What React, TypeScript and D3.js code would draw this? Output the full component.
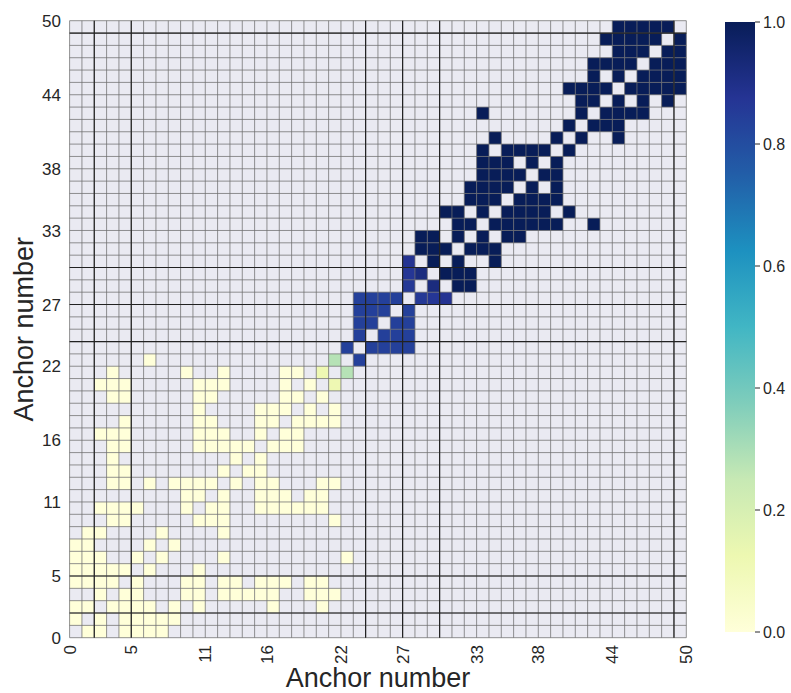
import React from "react";
import * as d3 from "d3";

const N = 50;
const axisTicks = [0, 5, 11, 16, 22, 27, 33, 38, 44, 50];
const colorbarTicks = [0, 0.2, 0.4, 0.6, 0.8, 1.0];
const guideLines = [2, 5, 24, 27, 30, 49];
const ylgnbu = ["#ffffd9", "#edf8b1", "#c7e9b4", "#7fcdbb", "#41b6c4", "#1d91c0", "#225ea8", "#253494", "#081d58"];

// upper-triangle cells (col > row), mirrored to the lower triangle
const lowRows: [number, number[]][] = [
  [0, [1, 2, 4, 5, 6, 7]],
  [1, [2, 4, 5, 6, 7, 8]],
  [2, [3, 4, 5, 6, 8, 10, 16, 20]],
  [3, [4, 5, 9, 10, 12, 13, 14, 15, 16, 19, 20, 21]],
  [4, [5, 9, 10, 12, 13, 15, 16, 17, 19, 20]],
  [5, [6, 10]],
  [6, [7, 12, 22]],
  [7, [8]],
  [8, [12]],
  [9, [10, 11, 12, 21]],
  [10, [11, 12, 15, 16, 17, 18, 19, 20]],
  [11, [12, 15, 16, 17, 19, 20]],
  [12, [13, 15, 16, 20, 21]],
  [13, [14, 15]],
  [14, [15]],
  [15, [16, 17, 18]],
  [16, [17, 18]],
  [17, [18, 19, 20, 21]],
  [18, [19, 21]],
  [19, [20]],
];

const highRows: [number, number[]][] = [
  [28, [31, 32]],
  [29, [30, 31, 32]],
  [30, [31, 34]],
  [31, [32, 33, 34]],
  [32, [33, 35, 36]],
  [33, [34, 35, 36, 37, 38, 39, 42]],
  [34, [35, 36, 37, 38, 40]],
  [35, [36, 37, 38, 39]],
  [36, [37, 39]],
  [37, [38, 39]],
  [38, [39]],
  [39, [40]],
  [40, [41, 44]],
  [41, [42, 43, 44]],
  [42, [43, 44, 45, 46]],
  [43, [44, 46, 48]],
  [44, [45, 46, 47, 48, 49]],
  [45, [46, 47, 48, 49]],
  [46, [47, 48, 49]],
  [47, [48, 49]],
  [48, [49]],
];

const gradedCells: [number, number, number][] = [
  [20, 21, 0.12],
  [21, 22, 0.28],
  [22, 23, 0.84],
  [23, 24, 0.84], [23, 25, 0.84], [23, 26, 0.84], [23, 27, 0.84],
  [24, 25, 0.84], [24, 26, 0.84], [24, 27, 0.84],
  [25, 26, 0.84], [25, 27, 0.84],
  [26, 27, 0.84],
  [27, 28, 0.86], [27, 29, 0.87], [27, 30, 0.88],
  [28, 29, 0.92],
];

const colorAt = (v: number) => {
  const t = Math.max(0, Math.min(1, v)) * (ylgnbu.length - 1);
  const i = Math.min(ylgnbu.length - 2, Math.floor(t));
  return d3.interpolateRgb(ylgnbu[i], ylgnbu[i + 1])(t - i);
};

export default function App() {
  const W = 791, H = 693;
  const x = d3.scaleLinear().domain([0, N]).range([69.6, 686.3]);
  const y = d3.scaleLinear().domain([0, N]).range([637.7, 20.7]);
  const cb = d3.scaleLinear().domain([0, 1]).range([632, 22]);

  const M: number[][] = Array.from({ length: N }, () => Array(N).fill(NaN));
  const put = (r: number, c: number, v: number) => { M[r][c] = v; M[c][r] = v; };
  lowRows.forEach(([r, cols]) => cols.forEach((c) => put(r, c, 0)));
  highRows.forEach(([r, cols]) => cols.forEach((c) => put(r, c, 1)));
  gradedCells.forEach(([r, c, v]) => put(r, c, v));

  const cells: { r: number; c: number; v: number }[] = [];
  M.forEach((row, r) => row.forEach((v, c) => { if (!isNaN(v)) cells.push({ r, c, v }); }));

  const font = "'Liberation Sans', Arial, sans-serif";
  const idx = d3.range(N + 1);

  return (
    <svg width={W} height={H} style={{ position: "absolute", left: 0, top: 0, background: "#fff" }}>
      <defs>
        <linearGradient id="cbar" x1="0" y1="1" x2="0" y2="0">
          {ylgnbu.map((c, i) => (
            <stop key={i} offset={i / (ylgnbu.length - 1)} stopColor={c} />
          ))}
        </linearGradient>
      </defs>
      <rect x={x(0)} y={y(N)} width={x(N) - x(0)} height={y(0) - y(N)} fill="#eaeaf2" />
      {cells.map((d) => (
        <rect key={`${d.r}-${d.c}`} x={x(d.c)} y={y(d.r + 1)} width={x(d.c + 1) - x(d.c)} height={y(d.r) - y(d.r + 1)} fill={colorAt(d.v)} />
      ))}
      {idx.map((i) => (
        <line key={`v${i}`} x1={x(i)} x2={x(i)} y1={y(0)} y2={y(N)} stroke="#6e6e6e" strokeOpacity={0.75} strokeWidth={1} />
      ))}
      {idx.map((i) => (
        <line key={`h${i}`} y1={y(i)} y2={y(i)} x1={x(0)} x2={x(N)} stroke="#6e6e6e" strokeOpacity={0.75} strokeWidth={1} />
      ))}
      {guideLines.map((g) => (
        <g key={`g${g}`}>
          <line x1={x(g)} x2={x(g)} y1={y(0)} y2={y(N)} stroke="#222" strokeWidth={1.2} />
          <line y1={y(g)} y2={y(g)} x1={x(0)} x2={x(N)} stroke="#222" strokeWidth={1.2} />
        </g>
      ))}
      {axisTicks.map((t) => (
        <text key={`yt${t}`} x={61} y={y(t)} dy="0.36em" textAnchor="end" fontSize={17} fontFamily={font} fill="#262626">{t}</text>
      ))}
      {axisTicks.map((t) => (
        <text key={`xt${t}`} transform={`translate(${x(t)},${645}) rotate(-90)`} dy="0.36em" textAnchor="end" fontSize={17} fontFamily={font} fill="#262626">{t}</text>
      ))}
      <text x={(x(0) + x(N)) / 2} y={687} textAnchor="middle" fontSize={27} fontFamily={font} fill="#262626">Anchor number</text>
      <text transform={`translate(33,${(y(0) + y(N)) / 2}) rotate(-90)`} textAnchor="middle" fontSize={27} fontFamily={font} fill="#262626">Anchor number</text>
      <rect x={725} y={cb(1)} width={30} height={cb(0) - cb(1)} fill="url(#cbar)" />
      {colorbarTicks.map((t) => (
        <g key={`cb${t}`}>
          <line x1={755} x2={760} y1={cb(t)} y2={cb(t)} stroke="#262626" strokeWidth={1} />
          <text x={763} y={cb(t)} dy="0.36em" fontSize={16} fontFamily={font} fill="#262626">{t.toFixed(1)}</text>
        </g>
      ))}
    </svg>
  );
}
